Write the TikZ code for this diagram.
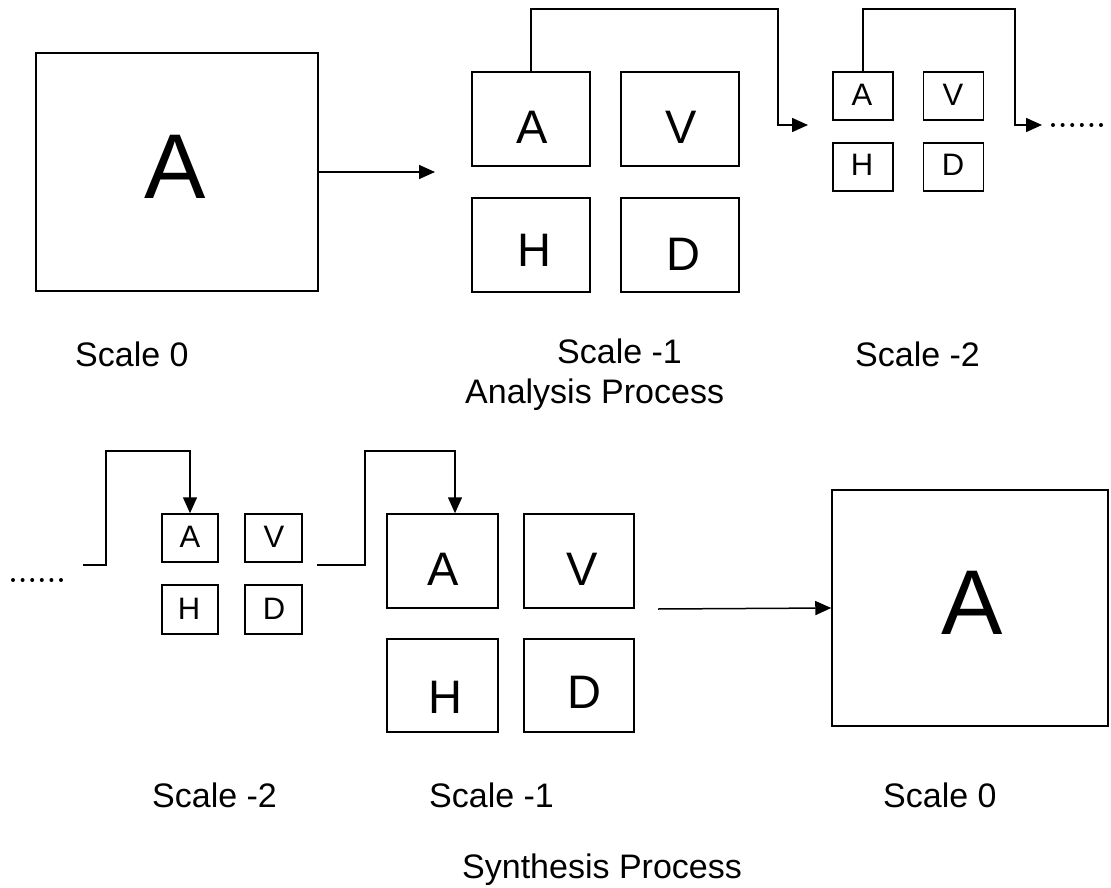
\documentclass[tikz,border=0pt]{standalone}
\usepackage{fontspec}
\setmainfont{Liberation Sans}
\usetikzlibrary{arrows.meta}

\begin{document}
\begin{tikzpicture}[x=1pt,y=-1pt,
  box/.style={draw,line width=1.5pt,inner sep=0pt},
  bigbox/.style={box,minimum width=282pt,minimum height=238pt},
  midbox/.style={box,minimum width=118pt,minimum height=94pt},
  smallbox/.style={box,minimum width=60pt,minimum height=48pt},
  letter/.style={inner sep=0pt},
  bigletter/.style={letter,font=\fontsize{92}{92}\selectfont},
  midletter/.style={letter,font=\fontsize{47}{47}\selectfont},
  smallletter/.style={letter,font=\fontsize{31}{31}\selectfont},
  caption/.style={inner sep=0pt,anchor=base west,font=\fontsize{34}{40}\selectfont},
  conn/.style={line width=1.5pt,-{Triangle[length=16pt,width=14pt]}},
  dotfill/.style={fill=black}
]
\useasboundingbox (0,0) rectangle (1111,888);

% ---------------- Analysis process ----------------
% scale 0
\node[bigbox] (s0) at (177,172) {};
\node[bigletter] (s0l) at (175,167) {A};

% scale -1
\node[midbox] (A1) at (531,119) {};
\node[midbox] (V1) at (680,119) {};
\node[midbox] (H1) at (531,245) {};
\node[midbox] (D1) at (680,245) {};
\node[midletter] (A1l) at (532,127) {A};
\node[midletter] (V1l) at (681,127) {V};
\node[midletter] (H1l) at (534,250) {H};
\node[midletter] (D1l) at (683,254) {D};

% scale -2
\node[smallbox] (A2) at (863,96) {};
\node[smallbox] (V2) at (953.5,96) {};
\node[smallbox] (H2) at (863,167) {};
\node[smallbox] (D2) at (953.5,167) {};
\node[smallletter] (A2l) at (862,95) {A};
\node[smallletter] (V2l) at (953,95) {V};
\node[smallletter] (H2l) at (862,165) {H};
\node[smallletter] (D2l) at (953,165) {D};

% connector end points
\coordinate (t1) at (435,172);
\coordinate (u1) at (778,9);
\coordinate (t2) at (808,125);
\coordinate (u2) at (1015,9);
\coordinate (t3) at (1042,125);

\draw[conn] (s0.east) -- (t1);
\draw[conn] (A1.north) |- (u1) |- (t2);
\draw[conn] (A2.north) |- (u2) |- (t3);
\foreach \i in {0,...,5} \fill[dotfill] (1053+9.6*\i,125) circle (2pt);

% captions
\node[caption] (c1) at (75,366) {Scale 0};
\node[caption] (c2) at (557,363) {Scale -1};
\node[caption] (c3) at (855,366) {Scale -2};
\node[caption] (c4) at (465,403) {Analysis Process};

% ---------------- Synthesis process ----------------
% scale -2
\node[smallbox,minimum width=56pt] (A3) at (190,538) {};
\node[smallbox,minimum width=57pt] (V3) at (273.5,538) {};
\node[smallbox,minimum width=56pt,minimum height=49pt] (H3) at (190,609.5) {};
\node[smallbox,minimum width=57pt,minimum height=49pt] (D3) at (273.5,609.5) {};
\node[smallletter] (A3l) at (190,537) {A};
\node[smallletter] (V3l) at (274,537) {V};
\node[smallletter] (H3l) at (189,609) {H};
\node[smallletter] (D3l) at (274,609) {D};

% scale -1
\node[midbox,minimum width=111pt] (A4) at (442.5,561) {};
\node[midbox,minimum width=110pt] (V4) at (579,561) {};
\node[midbox,minimum width=111pt,minimum height=93pt] (H4) at (442.5,685.5) {};
\node[midbox,minimum width=110pt,minimum height=93pt] (D4) at (579,685.5) {};
\node[midletter] (A4l) at (443,569) {A};
\node[midletter] (V4l) at (582,569) {V};
\node[midletter] (H4l) at (445,697) {H};
\node[midletter] (D4l) at (584,692) {D};

% scale 0
\node[box,minimum width=276pt,minimum height=236pt] (T0) at (970,608) {};
\node[bigletter] (T0l) at (972,603) {A};

% connector end points
\coordinate (w1) at (83,565);
\coordinate (w2) at (106,451);
\coordinate (w3) at (317,565);
\coordinate (w4) at (365,451);
\coordinate (w5) at (455,451);
\coordinate (w6) at (658,609);

\foreach \i in {0,...,5} \fill[dotfill] (13+9.6*\i,580) circle (2pt);
\draw[conn] (w1) -| (w2) -| (A3.north);
\draw[conn] (w3) -| (w4) -| (w5 |- A4.north);
\draw[conn] (w6) -- (T0.west);

% captions
\node[caption] (c5) at (152,807) {Scale -2};
\node[caption] (c6) at (429,807) {Scale -1};
\node[caption] (c7) at (883,807) {Scale 0};
\node[caption] (c8) at (462,878) {Synthesis Process};
\end{tikzpicture}
\end{document}
